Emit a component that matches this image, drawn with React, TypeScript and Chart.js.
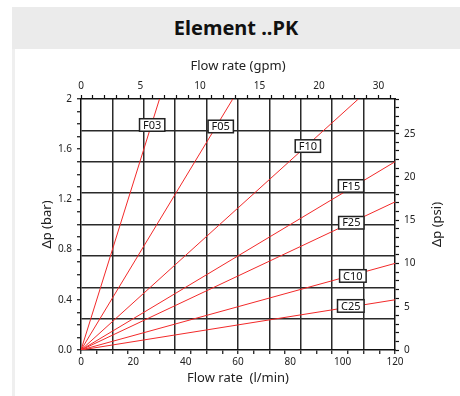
import React, { useEffect, useRef } from 'react';
import { Chart, registerables } from 'chart.js';
Chart.register(...registerables);

// ---- data ----
const seriesNames = ['F03', 'F05', 'F10', 'F15', 'F25', 'C10', 'C25'];
const endFlow = [30, 58, 106, 120, 120, 120, 120]; // l/min
const endDp = [2.0, 2.0, 2.0, 1.5, 1.18, 0.69, 0.4]; // bar
const labelFlow = [27.2, 53.4, 86.7, 103.2, 103.3, 103.9, 103.1];
const labelDp = [1.793, 1.781, 1.625, 1.307, 1.014, 0.59, 0.351];

const bottomTickValues = [0, 20, 40, 60, 80, 100, 120];
const bottomTickLabels = ['0', '20', '40', '60', '80', '100', '120'];
const leftTickValues = [0, 0.4, 0.8, 1.2, 1.6, 2];
const leftTickLabels = ['0.0', '0.4', '0.8', '1.2', '1.6', '2'];
const topTickValues = [0, 5, 10, 15, 20, 25];
const topTickLabels = ['0', '5', '10', '15', '20', '30'];
const rightTickValues = [0, 5, 10, 15, 20, 25];
const rightTickLabels = ['0', '5', '10', '15', '20', '25'];

const FLOW_MAX = 120;
const DP_MAX = 2;
const GPM_PER_LPM = 1 / 4.54609;
const PSI_PER_BAR = 14.5038;

const AXIS = '#111';
const GRID = '#2a2a2a';
const RED = '#f22a2a';
const TXT = '#222';
const FONT = '"Noto Sans", "Open Sans", sans-serif';
const CLEAR = 'rgba(0,0,0,0)';

const near = (a: number, b: number) => Math.abs(a - b) < 1e-6;
const isMult = (v: number, s: number) => near(v / s, Math.round(v / s));
const steps = (step: number, max: number) => {
  const out: number[] = [];
  for (let i = 0; i * step <= max + 1e-9; i++) out.push(Math.round(i * step * 1000) / 1000);
  return out;
};
const union = (...arrs: number[][]) => {
  const all: number[] = [];
  arrs.flat().forEach((v) => {
    if (!all.some((w) => near(w, v))) all.push(v);
  });
  return all.sort((a, b) => a - b);
};
const labelFor = (vals: number[], labels: string[]) => (v: any) => {
  const i = vals.findIndex((w) => near(w, Number(v)));
  return i >= 0 ? labels[i] : '';
};

const boxLabels = {
  id: 'boxLabels',
  afterDatasetsDraw(chart: any) {
    const { ctx, scales } = chart;
    const xs = scales.x;
    const ys = scales.y;
    ctx.save();
    ctx.font = `11px ${FONT}`;
    ctx.textAlign = 'center';
    ctx.textBaseline = 'middle';
    seriesNames.forEach((name, i) => {
      const cx = xs.getPixelForValue(labelFlow[i]);
      const cy = ys.getPixelForValue(labelDp[i]);
      const w = ctx.measureText(name).width + 7;
      const h = 12.5;
      ctx.fillStyle = '#fff';
      ctx.fillRect(cx - w / 2, cy - h / 2, w, h);
      ctx.strokeStyle = '#222';
      ctx.lineWidth = 1.5;
      ctx.strokeRect(cx - w / 2, cy - h / 2, w, h);
      ctx.fillStyle = '#111';
      ctx.fillText(name, cx, cy + 0.5);
    });
    // right axis title (reads bottom to top)
    const y2 = scales.y2;
    const ca = chart.chartArea;
    ctx.font = `13px ${FONT}`;
    ctx.fillStyle = TXT;
    ctx.translate(y2.right - 11.8, (ca.top + ca.bottom) / 2);
    ctx.rotate(-Math.PI / 2);
    ctx.fillText('Δp (psi)', 0, 0);
    ctx.restore();
  },
};

export default function App() {
  const ref = useRef<HTMLCanvasElement | null>(null);
  useEffect(() => {
    if (!ref.current) return;
    const xTicks = union(steps(6, FLOW_MAX), bottomTickValues);
    const yTicks = union(steps(0.1, DP_MAX), steps(0.25, DP_MAX));
    const gpmMax = FLOW_MAX * GPM_PER_LPM;
    const psiMax = DP_MAX * PSI_PER_BAR;
    const topTicks = steps(1, gpmMax);
    const rightTicks = steps(1, psiMax);
    const tickFont = { family: FONT, size: 10 };
    const titleFont = { family: FONT, size: 13 };

    const chart = new Chart(ref.current, {
      type: 'line',
      data: {
        datasets: seriesNames.map((name, i) => ({
          label: name,
          data: [
            { x: 0, y: 0 },
            { x: endFlow[i], y: endDp[i] },
          ],
          borderColor: RED,
          borderWidth: 1,
          pointRadius: 0,
          fill: false,
          xAxisID: 'x',
          yAxisID: 'y',
        })),
      },
      options: {
        animation: false,
        responsive: false,
        maintainAspectRatio: false,
        layout: { padding: { left: 35, right: 11, top: 54, bottom: 6 } },
        plugins: { legend: { display: false }, tooltip: { enabled: false } },
        scales: {
          x: {
            type: 'linear',
            position: 'bottom',
            min: 0,
            max: FLOW_MAX,
            afterBuildTicks: (s: any) => {
              s.ticks = xTicks.map((v) => ({ value: v }));
            },
            afterFit: (s: any) => {
              s.height = 40;
            },
            grid: {
              color: (c: any) => {
                const v = c.tick ? c.tick.value : 0;
                return isMult(v, 12) && v > 0 && v < FLOW_MAX ? GRID : CLEAR;
              },
              tickColor: (c: any) => (c.tick && isMult(c.tick.value, 6) ? AXIS : CLEAR),
              lineWidth: 1.5,
              tickLength: 4,
              tickWidth: 1.2,
            },
            border: { display: true, color: AXIS, width: 1.5 },
            ticks: {
              autoSkip: false,
              maxRotation: 0,
              padding: 2,
              color: TXT,
              font: tickFont,
              callback: labelFor(bottomTickValues, bottomTickLabels),
            },
            title: { display: true, text: 'Flow rate  (l/min)', color: TXT, font: titleFont },
          },
          y: {
            type: 'linear',
            position: 'left',
            min: 0,
            max: DP_MAX,
            afterBuildTicks: (s: any) => {
              s.ticks = yTicks.map((v) => ({ value: v }));
            },
            afterFit: (s: any) => {
              s.width = 46;
            },
            grid: {
              color: (c: any) => {
                const v = c.tick ? c.tick.value : 0;
                return isMult(v, 0.25) && v > 0 && v < DP_MAX ? GRID : CLEAR;
              },
              tickColor: (c: any) => (c.tick && isMult(c.tick.value, 0.1) ? AXIS : CLEAR),
              lineWidth: 1.5,
              tickLength: 4,
              tickWidth: 1.2,
            },
            border: { display: true, color: AXIS, width: 1.5 },
            ticks: {
              autoSkip: false,
              padding: 5,
              color: TXT,
              font: tickFont,
              callback: labelFor(leftTickValues, leftTickLabels),
            },
            title: { display: true, text: 'Δp (bar)', color: TXT, font: titleFont },
          },
          x2: {
            type: 'linear',
            position: 'top',
            min: 0,
            max: gpmMax,
            afterBuildTicks: (s: any) => {
              s.ticks = topTicks.map((v) => ({ value: v }));
            },
            afterFit: (s: any) => {
              s.height = 45;
            },
            grid: { drawOnChartArea: false, tickColor: AXIS, tickLength: 4, tickWidth: 1.2 },
            border: { display: true, color: AXIS, width: 1.5 },
            ticks: {
              autoSkip: false,
              maxRotation: 0,
              padding: 3,
              color: TXT,
              font: tickFont,
              callback: labelFor(topTickValues, topTickLabels),
            },
            title: { display: true, text: 'Flow rate (gpm)', color: TXT, font: titleFont },
          },
          y2: {
            type: 'linear',
            position: 'right',
            min: 0,
            max: psiMax,
            afterBuildTicks: (s: any) => {
              s.ticks = rightTicks.map((v) => ({ value: v }));
            },
            afterFit: (s: any) => {
              s.width = 54;
            },
            grid: { drawOnChartArea: false, tickColor: AXIS, tickLength: 4, tickWidth: 1.2 },
            border: { display: true, color: AXIS, width: 1.5 },
            ticks: {
              autoSkip: false,
              padding: 5,
              color: TXT,
              font: tickFont,
              callback: labelFor(rightTickValues, rightTickLabels),
            },
          },
        },
      } as any,
      plugins: [boxLabels],
    });
    return () => chart.destroy();
  }, []);

  return (
    <div style={{ position: 'absolute', left: 0, top: 0, width: 460, height: 396, background: '#fff', overflow: 'hidden' }}>
      <div
        style={{
          position: 'absolute',
          left: 12,
          top: 7,
          width: 448,
          height: 42,
          background: '#ebebeb',
          fontFamily: FONT,
          fontWeight: 700,
          fontSize: 20,
          lineHeight: '42px',
          textAlign: 'center',
          color: '#111',
        }}
      >
        Element ..PK
      </div>
      <div style={{ position: 'absolute', left: 12, top: 49, width: 3, height: 347, background: '#efefef' }} />
      <canvas ref={ref} width={460} height={396} style={{ position: 'absolute', left: 0, top: 0, width: 460, height: 396 }} />
    </div>
  );
}
